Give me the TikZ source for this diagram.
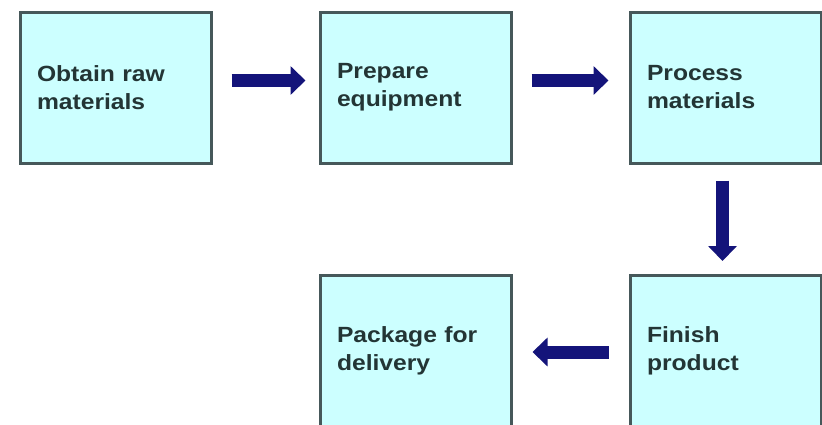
\documentclass[tikz,border=0pt]{standalone}
\usepackage{fontspec}
\setmainfont{Liberation Sans}[FakeStretch=1.12]
\usetikzlibrary{arrows.meta}
\definecolor{boxfill}{HTML}{CCFFFF}
\definecolor{boxline}{HTML}{46585A}
\definecolor{txt}{HTML}{233535}
\definecolor{arr}{HTML}{14147A}
\tikzset{
  stepbox/.style={draw=boxline, line width=3pt, fill=boxfill, minimum width=191pt, minimum height=151pt,
    text width=157pt, align=left, inner sep=0pt, text=txt,
    font=\fontsize{22pt}{28pt}\selectfont\bfseries},
  flow/.style={draw=arr, line width=13pt, -{Triangle[length=15pt,width=28pt]}, arr}
}
\begin{document}
\begin{tikzpicture}[x=1pt,y=-1pt]
\useasboundingbox[fill=white] (0,0) rectangle (822,424);
\node[stepbox] (b1) at (115.5,87.5) {Obtain raw\\materials};
\node[stepbox] (b2) at (415.5,87.5) {Prepare\\equipment};
\node[stepbox] (b3) at (725.5,87.5) {Process\\materials};
\node[stepbox] (b4) at (725.5,351) {Finish\\product};
\node[stepbox] (b5) at (415.5,351) {Package for\\delivery};
\draw[flow, shorten <=19pt, shorten >=13pt] ([yshift=7pt]b1.east) -- ([yshift=7pt]b2.west);
\draw[flow, shorten <=19pt, shorten >=20pt] ([yshift=7pt]b2.east) -- ([yshift=7pt]b3.west);
\draw[flow, shorten <=16pt, shorten >=13pt] ([xshift=-3pt]b3.south) -- ([xshift=-3pt]b4.north);
\draw[flow, shorten <=20pt, shorten >=20pt] ([yshift=-1pt]b4.west) -- ([yshift=-1pt]b5.east);
\end{tikzpicture}
\end{document}
